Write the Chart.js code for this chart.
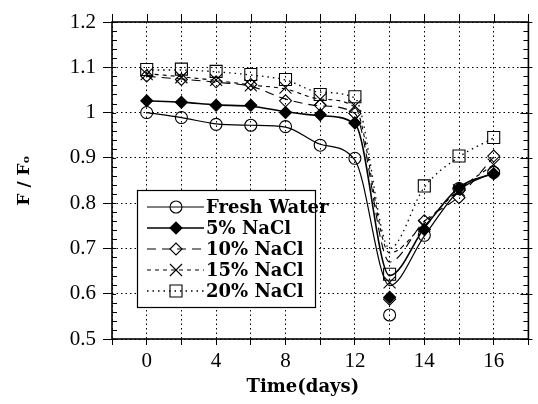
<!DOCTYPE html>
<html>
<head>
<meta charset="utf-8">
<script src="https://cdn.jsdelivr.net/npm/chart.js@4/dist/chart.umd.min.js"></script>
<style>
  html, body { margin: 0; padding: 0; background: #fff; }
  #wrap { width: 538px; height: 404px; }
</style>
</head>
<body>
<div id="wrap"><canvas id="c" width="538" height="404"></canvas></div>
<script>
// Sampling days (the x axis is spaced by sample, not by day)
const days = [0, 2, 4, 6, 8, 10, 12, 13, 14, 15, 16];
const labelledDays = [0, 4, 8, 12, 14, 16];

// Measured F/Fo
const freshWater = [1.000, 0.989, 0.974, 0.972, 0.969, 0.928, 0.899, 0.553, 0.729, 0.832, 0.868];
const nacl5      = [1.026, 1.023, 1.016, 1.016, 1.000, 0.995, 0.977, 0.592, 0.742, 0.833, 0.865];
const nacl10     = [1.081, 1.073, 1.068, 1.062, 1.026, 1.016, 0.998, 0.588, 0.761, 0.812, 0.904];
const nacl15     = [1.085, 1.078, 1.072, 1.060, 1.055, 1.029, 1.015, 0.625, 0.750, 0.828, 0.885];
const nacl20     = [1.095, 1.096, 1.091, 1.084, 1.073, 1.040, 1.035, 0.643, 0.838, 0.904, 0.945];

// Smoothed trend curves drawn through each series
const freshWaterFit = [1.000, 0.989, 0.975, 0.972, 0.968, 0.930, 0.895, 0.618, 0.727, 0.828, 0.868];
const nacl5Fit      = [1.026, 1.023, 1.017, 1.014, 1.002, 0.993, 0.975, 0.640, 0.745, 0.835, 0.866];
const nacl10Fit     = [1.080, 1.074, 1.067, 1.058, 1.030, 1.015, 0.998, 0.670, 0.760, 0.815, 0.902];
const nacl15Fit     = [1.086, 1.079, 1.071, 1.061, 1.052, 1.030, 1.012, 0.690, 0.755, 0.830, 0.885];
const nacl20Fit     = [1.094, 1.094, 1.090, 1.083, 1.072, 1.045, 1.032, 0.700, 0.835, 0.902, 0.944];

const seriesNames = ['Fresh Water', '5% NaCl', '10% NaCl', '15% NaCl', '20% NaCl'];
const yTickValues = [0.5, 0.6, 0.7, 0.8, 0.9, 1.0, 1.1, 1.2];
const xTitle = 'Time(days)';

const series = [
  { name: seriesNames[0], values: freshWater, fit: freshWaterFit, dash: [],     width: 1.2, style: 'circle',   fill: false, r: 6 },
  { name: seriesNames[1], values: nacl5,      fit: nacl5Fit,      dash: [],     width: 1.6, style: 'rectRot',  fill: true,  r: 6 },
  { name: seriesNames[2], values: nacl10,     fit: nacl10Fit,     dash: [9, 6], width: 1.1, style: 'rectRot',  fill: false, r: 6 },
  { name: seriesNames[3], values: nacl15,     fit: nacl15Fit,     dash: [4, 4], width: 1.1, style: 'crossRot', fill: false, r: 8.5 },
  { name: seriesNames[4], values: nacl20,     fit: nacl20Fit,     dash: [1.5, 4], width: 1.3, style: 'rect',   fill: false, r: 8.5 }
];

const toPoints = arr => arr.map((v, i) => ({ x: i, y: v }));

const datasets = [];
series.forEach(s => {
  datasets.push({
    label: s.name + ' trend',
    data: toPoints(s.fit),
    borderColor: '#000',
    borderWidth: s.width,
    borderDash: s.dash,
    pointRadius: 0,
    fill: false,
    cubicInterpolationMode: 'monotone'
  });
  datasets.push({
    label: s.name,
    data: toPoints(s.values),
    showLine: false,
    pointStyle: s.style,
    pointRadius: s.r,
    pointBorderWidth: 1.1,
    pointBorderColor: '#000',
    pointBackgroundColor: s.fill ? '#000' : 'rgba(0,0,0,0)'
  });
});

const SERIF = '"Liberation Serif", "Times New Roman", serif';
const BOLD_SERIF = '"DejaVu Serif", "Liberation Serif", serif';

// Frame, top/right ticks, minor ticks and the x title
const framePlugin = {
  id: 'frame',
  afterDraw(chart) {
    const { ctx, chartArea: a, scales: { x, y } } = chart;
    ctx.save();
    ctx.strokeStyle = '#000';
    ctx.setLineDash([]);
    ctx.lineWidth = 1;
    ctx.beginPath();
    // minor y ticks every 0.02, inside on both sides
    for (let k = 26; k < 60; k++) {
      if (k % 5 === 0) continue;
      const py = Math.round(y.getPixelForValue(k * 0.02)) + 0.5;
      ctx.moveTo(a.left, py); ctx.lineTo(a.left + 5, py);
      ctx.moveTo(a.right, py); ctx.lineTo(a.right - 5, py);
    }
    // major y ticks: inside left, across right
    yTickValues.forEach(v => {
      const py = Math.round(y.getPixelForValue(v)) + 0.5;
      ctx.moveTo(a.left, py); ctx.lineTo(a.left + 4, py);
      ctx.moveTo(a.right - 8, py); ctx.lineTo(a.right + 4, py);
    });
    // top ticks at each sample position
    for (let i = -1; i <= days.length; i++) {
      const px = Math.round(x.getPixelForValue(i)) + 0.5;
      ctx.moveTo(px, a.top); ctx.lineTo(px, a.top - 8);
    }
    ctx.stroke();
    ctx.lineWidth = 1.6;
    ctx.strokeRect(a.left, a.top, a.right - a.left, a.bottom - a.top);

    // x axis title, centred under the sampled days
    ctx.fillStyle = '#000';
    ctx.font = 'bold 18px ' + BOLD_SERIF;
    ctx.textAlign = 'center';
    ctx.textBaseline = 'middle';
    ctx.fillText(xTitle, x.getPixelForValue((days.length - 1) / 2 - 0.5), 387);
    ctx.restore();
  }
};

function drawMarker(ctx, style, cx, cy, r, filled) {
  ctx.beginPath();
  if (style === 'circle') {
    ctx.arc(cx, cy, r, 0, Math.PI * 2);
  } else if (style === 'rectRot') {
    ctx.moveTo(cx - r, cy); ctx.lineTo(cx, cy - r); ctx.lineTo(cx + r, cy); ctx.lineTo(cx, cy + r); ctx.closePath();
  } else if (style === 'rect') {
    const h = r * Math.SQRT1_2;
    ctx.rect(cx - h, cy - h, 2 * h, 2 * h);
  } else if (style === 'crossRot') {
    const h = r * Math.SQRT1_2;
    ctx.moveTo(cx - h, cy - h); ctx.lineTo(cx + h, cy + h);
    ctx.moveTo(cx - h, cy + h); ctx.lineTo(cx + h, cy - h);
  }
  if (filled) { ctx.fillStyle = '#000'; ctx.fill(); }
  ctx.stroke();
}

// Boxed key: line sample, marker, name
const keyPlugin = {
  id: 'keyBox',
  afterDraw(chart) {
    const { ctx } = chart;
    const box = { left: 137, top: 190, right: 315, bottom: 307 };
    ctx.save();
    ctx.fillStyle = '#fff';
    ctx.fillRect(box.left, box.top, box.right - box.left, box.bottom - box.top);
    ctx.strokeStyle = '#000';
    ctx.lineWidth = 1.2;
    ctx.setLineDash([]);
    ctx.strokeRect(box.left + 0.5, box.top + 0.5, box.right - box.left, box.bottom - box.top);
    series.forEach((s, i) => {
      const cy = 207 + i * 21;
      ctx.setLineDash(s.dash);
      ctx.lineWidth = s.width;
      ctx.beginPath();
      ctx.moveTo(147, cy); ctx.lineTo(204, cy);
      ctx.stroke();
      ctx.setLineDash([]);
      ctx.lineWidth = 1.1;
      drawMarker(ctx, s.style, 176, cy, s.r, s.fill);
      ctx.fillStyle = '#000';
      ctx.font = 'bold 18px ' + BOLD_SERIF;
      ctx.textBaseline = 'middle';
      ctx.textAlign = 'left';
      ctx.fillText(s.name, 206, cy + 1);
    });
    ctx.restore();
  }
};

new Chart(document.getElementById('c'), {
  type: 'line',
  data: { datasets },
  plugins: [framePlugin, keyPlugin],
  options: {
    responsive: false,
    devicePixelRatio: 1,
    animation: false,
    layout: { padding: { top: 22, right: 5, left: 0, bottom: 0 } },
    plugins: { legend: { display: false }, tooltip: { enabled: false } },
    scales: {
      x: {
        type: 'linear',
        min: -1,
        max: days.length,
        afterFit: s => { s.height = 65; },
        afterBuildTicks: s => { s.ticks = []; for (let i = -1; i <= days.length; i++) s.ticks.push({ value: i }); },
        ticks: {
          autoSkip: false,
          maxRotation: 0,
          padding: 4,
          color: '#000',
          font: { family: SERIF, size: 21 },
          callback: v => (labelledDays.includes(days[v]) ? String(days[v]) : '')
        },
        grid: {
          color: '#000',
          lineWidth: 1,
          drawTicks: true,
          tickLength: 6,
          tickColor: '#000'
        },
        border: { display: false, dash: [1.5, 3] },
        title: { display: false }
      },
      y: {
        min: 0.5,
        max: 1.2,
        afterFit: s => { s.width = 112; },
        afterBuildTicks: s => { s.ticks = yTickValues.map(v => ({ value: v })); },
        ticks: {
          padding: 7,
          color: '#000',
          font: { family: SERIF, size: 21 },
          callback: v => String(Number(v.toFixed(1)))
        },
        grid: {
          color: '#000',
          lineWidth: 1,
          drawTicks: true,
          tickLength: 9,
          tickColor: '#000'
        },
        border: { display: false, dash: [1.5, 3] },
        title: {
          display: true,
          text: 'F / Fₒ',
          color: '#000',
          font: { family: BOLD_SERIF, size: 17, weight: 'bold' },
          padding: { top: 14, bottom: 0 }
        }
      }
    }
  }
});
</script>
</body>
</html>
